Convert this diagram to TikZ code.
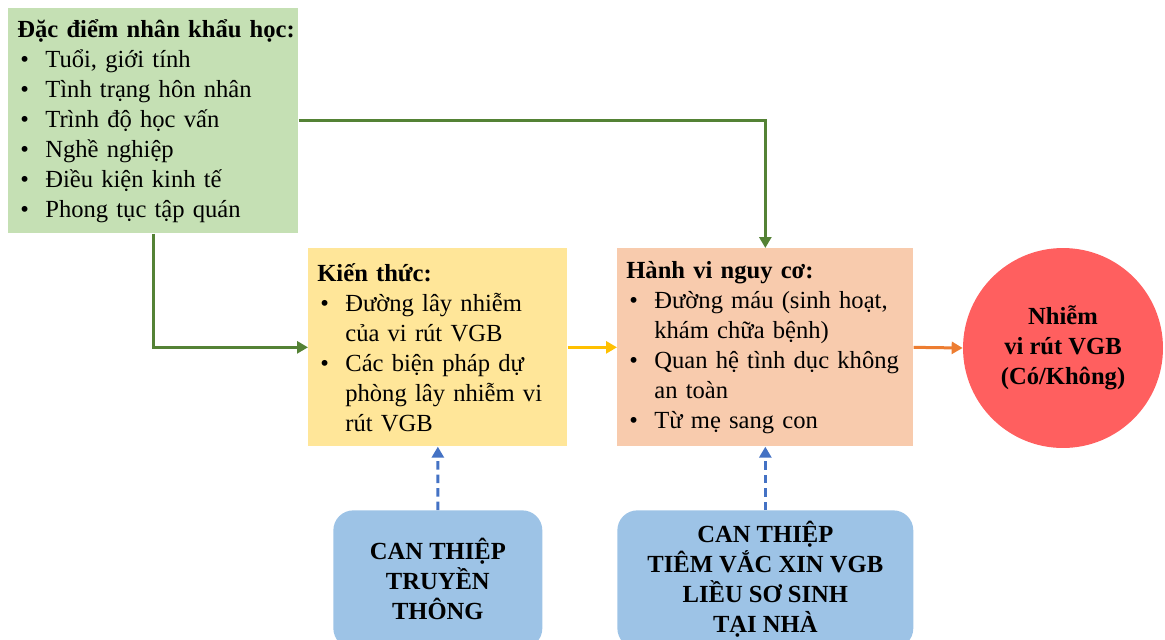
\documentclass[tikz,border=0pt]{standalone}
\usepackage{fontspec}
\setmainfont{Liberation Serif}
\usetikzlibrary{arrows.meta}

\definecolor{vertclair}{HTML}{C5E0B4}
\definecolor{jauneclair}{HTML}{FFE699}
\definecolor{saumon}{HTML}{F8CBAD}
\definecolor{rouge}{HTML}{FF5F5F}
\definecolor{bleuclair}{HTML}{9DC3E6}
\definecolor{vertfonce}{HTML}{548235}
\definecolor{jaune}{HTML}{FFC000}
\definecolor{orange}{HTML}{ED7D31}
\definecolor{bleu}{HTML}{4472C4}

\newcommand{\puce}{\makebox[0.56cm][l]{\hspace{0.06cm}\textbullet}}
\newcommand{\suite}{\hspace*{0.56cm}}

\tikzset{
  boite/.style={anchor=north west, inner xsep=0.18cm, inner ysep=0pt,
    align=left, font=\fontsize{14}{17.07}\selectfont},
  interv/.style={anchor=north west, fill=bleuclair, rounded corners=0.4cm,
    align=center, font=\fontsize{14}{17.07}\selectfont\bfseries},
  fleche/.style={line width=0.06cm, -{Triangle[length=0.22cm,width=0.24cm]}},
}

\begin{document}
\begin{tikzpicture}[x=0.02cm, y=-0.02cm]
    % Cadre de l'image
    \clip (0,0) rectangle (1165,639);
    \useasboundingbox (0,0) rectangle (1165,639);

    % Caracteristiques demographiques
    \node[boite, fill=vertclair, minimum width=5.8cm, minimum height=4.5cm,
      text width=5.44cm] (demo) at (8,8)
      {\mbox{\textbf{Đặc điểm nhân khẩu học:}}\\
       \puce Tuổi, giới tính\\
       \puce Tình trạng hôn nhân\\
       \puce Trình độ học vấn\\
       \puce Nghề nghiệp\\
       \puce Điều kiện kinh tế\\
       \puce Phong tục tập quán};

    % Connaissances
    \node[boite, fill=jauneclair, minimum width=5.18cm, minimum height=3.96cm,
      text width=4.82cm] (savoir) at (308,248)
      {\textbf{Kiến thức:}\\
       \puce Đường lây nhiễm\\
       \suite của vi rút VGB\\
       \puce Các biện pháp dự\\
       \suite phòng lây nhiễm vi\\
       \suite rút VGB};

    % Comportements a risque
    \node[boite, fill=saumon, minimum width=5.92cm, minimum height=3.96cm,
      text width=5.56cm] (risque) at (617,248)
      {\textbf{Hành vi nguy cơ:}\\
       \puce Đường máu (sinh hoạt,\\
       \suite khám chữa bệnh)\\
       \puce Quan hệ tình dục không\\
       \suite an toàn\\
       \puce Từ mẹ sang con};

    % Resultat
    \node[circle, fill=rouge, minimum size=4cm, inner sep=0pt, align=center,
      font=\fontsize{14}{17.07}\selectfont\bfseries] (nhiem) at (1063,348)
      {Nhiễm\\ vi rút VGB\\ (Có/Không)};

    % Interventions
    \node[interv, minimum width=4.18cm, minimum height=2.76cm] (truyen) at (333,510)
      {CAN THIỆP\\ TRUYỀN\\ THÔNG};
    \node[interv, minimum width=5.92cm, minimum height=2.76cm] (tiem) at (617,510)
      {CAN THIỆP\\ TIÊM VẮC XIN VGB\\ LIỀU SƠ SINH\\ TẠI NHÀ};

    % Fleches
    \draw[fleche, vertfonce] (demo.east) -| (risque.north);
    \draw[fleche, vertfonce] (demo.south) |- (savoir.west);
    \draw[fleche, jaune] (savoir.east) -- (risque.west);
    \draw[fleche, orange] (risque.east) -- (nhiem.west);
    \draw[fleche, bleu, dash pattern=on 0.17cm off 0.1cm] (truyen.north) -- (savoir.south);
    \draw[fleche, bleu, dash pattern=on 0.17cm off 0.1cm] (tiem.north) -- (risque.south);
\end{tikzpicture}
\end{document}
